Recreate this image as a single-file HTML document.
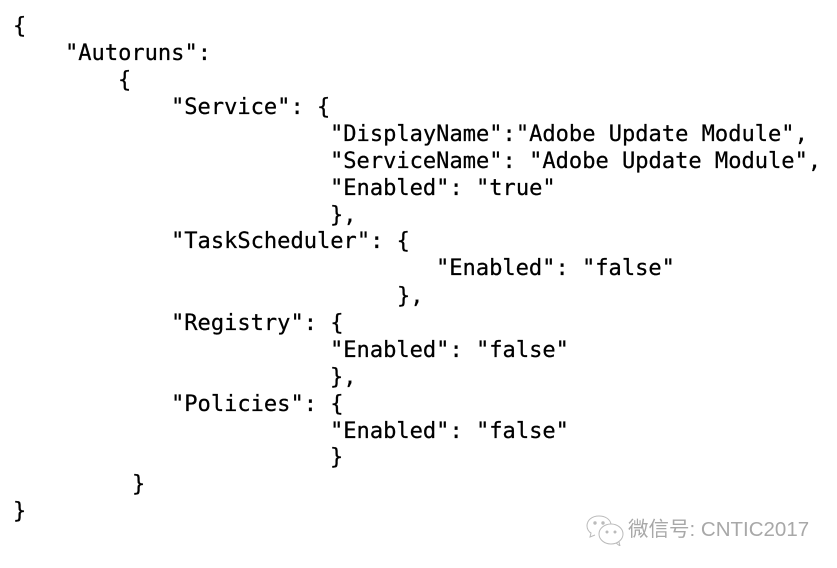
<!DOCTYPE html>
<html><head><meta charset="utf-8"><style>
html,body{margin:0;padding:0;background:#fff}
#p{position:relative;width:837px;height:568px;overflow:hidden;background:#fff}
.l{position:absolute;white-space:pre;font:22.05px/27px "DejaVu Sans Mono",monospace;color:#000;-webkit-text-stroke:.25px #000}
.w{position:absolute;left:628px;top:518px;white-space:pre;font:20.5px/24px "Liberation Sans","Noto Sans CJK SC",sans-serif;color:#a8a8a8}
</style></head><body><div id="p">
<div class="l" style="left:13px;top:13px">{</div>
<div class="l" style="left:65px;top:40px">"Autoruns":</div>
<div class="l" style="left:118px;top:67px">{</div>
<div class="l" style="left:171px;top:94px">"Service": {</div>
<div class="l" style="left:330px;top:121px">"DisplayName":"Adobe Update Module",</div>
<div class="l" style="left:330px;top:148px">"ServiceName": "Adobe Update Module",</div>
<div class="l" style="left:330px;top:175px">"Enabled": "true"</div>
<div class="l" style="left:330px;top:202px">},</div>
<div class="l" style="left:171px;top:228px">"TaskScheduler": {</div>
<div class="l" style="left:436px;top:255px">"Enabled": "false"</div>
<div class="l" style="left:397px;top:283px">},</div>
<div class="l" style="left:171px;top:310px">"Registry": {</div>
<div class="l" style="left:330px;top:337px">"Enabled": "false"</div>
<div class="l" style="left:330px;top:364px">},</div>
<div class="l" style="left:171px;top:391px">"Policies": {</div>
<div class="l" style="left:330px;top:418px">"Enabled": "false"</div>
<div class="l" style="left:330px;top:444px">}</div>
<div class="l" style="left:132px;top:471px">}</div>
<div class="l" style="left:13px;top:498px">}</div>
<svg style="position:absolute;left:586px;top:514px" width="40" height="32" viewBox="0 0 40 32" fill="none" stroke="#bbb" stroke-width="1">
<path d="M13 2C6 2 1 6 1 12c0 3 2 6 4 7l-1 4 5-2"/>
<path d="M13 2c6 0 11 3 12 8"/>
<ellipse cx="25" cy="20" rx="12" ry="10"/>
<path d="M30 29l4 3-1-4"/>
<circle cx="9" cy="9" r="1.2" fill="#bbb"/><circle cx="17" cy="9" r="1.2" fill="#bbb"/>
<circle cx="21" cy="18" r="1" fill="#bbb"/><circle cx="29" cy="18" r="1" fill="#bbb"/>
</svg>
<div class="w">微信号: CNTIC2017</div>
</div></body></html>
